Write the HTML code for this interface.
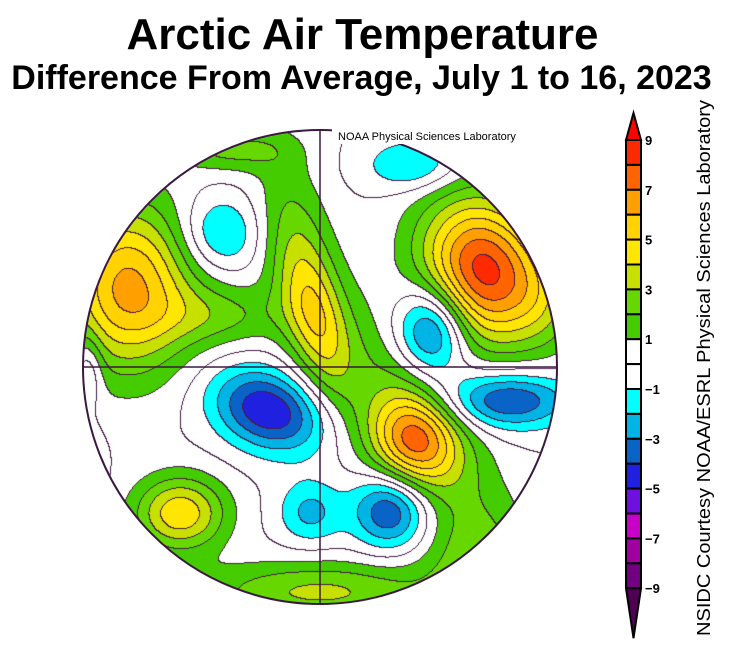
<!DOCTYPE html>
<html><head><meta charset="utf-8">
<style>
html,body{margin:0;padding:0;background:#fff;width:739px;height:647px;overflow:hidden;font-family:"Liberation Sans",sans-serif}
#t1{position:absolute;left:0;width:725px;top:12px;text-align:center;font-weight:bold;font-size:44px;line-height:46px}
#t2{position:absolute;left:0;width:723px;top:60px;text-align:center;font-weight:bold;font-size:34px;line-height:36px}
#map{position:absolute;left:0;top:0}
svg{position:absolute;left:0;top:0}
</style></head><body>
<div id="t1">Arctic Air Temperature</div>
<div id="t2">Difference From Average, July 1 to 16, 2023</div>
<canvas id="map" width="739" height="647"></canvas>
<svg id="ov" width="739" height="647"></svg>
<script>
// anomaly centres (map pixel coords), amplitude (°C), spreads, rotation
const blobX   = [128,483,318,413,268,507,180,390,310,220,413,432,320,300,420,220,230,470,88, 545,88];
const blobY   = [287,270,325,440,410,400,513,510,512,233,165,330,592,260,430,315,150,565,370,300,470];
const blobAmp = [6.3,8.4,2.8,5.5,-5.0,-4.2,4.8,-4.2,-2.3,-2.4,-2.3,-4.5,3.2,2.3,2.3,2.0,2.2,2.0,-2.0,1.5,-2.0];
const blobSx  = [45,42,20,30,40,45,32,26,22,28,32,25,85,25,35,45,40,35,10,25,10];
const blobSy  = [58,52,55,33,27,20,26,26,22,26,18,32,22,80,110,22,15,35,25,35,25];
const blobAng = [0,-20,-15,-30,20,0,0,0,0,0,0,0,0,-10,-35,0,0,0,0,0,0];
const levelColors = ["#700080","#a000a0","#c800c8","#7010e0","#2020e0","#0a64c8","#00b4e6","#00ffff","#ffffff","#ffffff","#44cc00","#66d800","#c8e000","#ffe600","#ffd200","#ffa000","#ff6400","#ff2a00"];
const tickLabels = ["9","7","5","3","1","\u22121","\u22123","\u22125","\u22127","\u22129"];

const CX=320, CY=367, R=237;
function field(x,y){
  let s=0;
  for(let i=0;i<blobX.length;i++){
    const dx=x-blobX[i], dy=y-blobY[i], a=blobAng[i]*Math.PI/180;
    const u=dx*Math.cos(a)+dy*Math.sin(a), v=-dx*Math.sin(a)+dy*Math.cos(a);
    s+=blobAmp[i]*Math.exp(-0.5*((u/blobSx[i])**2+(v/blobSy[i])**2));
  }
  return s;
}
function lev(v){return Math.floor(v);}
function colorFor(v){let k=Math.floor(v)+9;k=Math.max(0,Math.min(17,k));return levelColors[k];}
const cv=document.getElementById('map'),ctx=cv.getContext('2d');
const W=739,H=647,img=ctx.createImageData(W,H);
const L=new Int16Array(W*H),V=new Float32Array(W*H);
function hex(c){return [parseInt(c.slice(1,3),16),parseInt(c.slice(3,5),16),parseInt(c.slice(5,7),16)];}
for(let y=CY-R-1;y<=CY+R+1;y++)for(let x=CX-R-1;x<=CX+R+1;x++){
  const f=field(x,y);V[y*W+x]=f;L[y*W+x]=lev(f);
}
for(let y=CY-R;y<=CY+R;y++)for(let x=CX-R;x<=CX+R;x++){
  const d=Math.hypot(x-CX,y-CY);if(d>R)continue;
  const i=y*W+x;let c=hex(colorFor(V[i]));
  if(L[i]!==L[i+1]||L[i]!==L[i+W])c=[70,30,70];
  img.data[i*4]=c[0];img.data[i*4+1]=c[1];img.data[i*4+2]=c[2];img.data[i*4+3]=255;
}
ctx.putImageData(img,0,0);

const NS='http://www.w3.org/2000/svg',ov=document.getElementById('ov');
function mk(tag,attrs,parent){const e=document.createElementNS(NS,tag);for(const k in attrs)e.setAttribute(k,attrs[k]);(parent||ov).appendChild(e);return e;}
let e;
e=mk('circle',{cx:CX,cy:CY,r:R,fill:'none',stroke:'#3a1840','stroke-width':2});


e=mk('line',{x1:CX,y1:CY-R,x2:CX,y2:CY+R,stroke:'#3a1840','stroke-width':1.5});


e=mk('line',{x1:CX-R,y1:CY,x2:CX+R,y2:CY,stroke:'#3a1840','stroke-width':1.5});


e=mk('rect',{x:332,y:126,width:230,height:18,fill:'#fff'});


e=mk('text',{x:338,y:140,'font-size':11,'font-family':'Liberation Sans, sans-serif',fill:'#000'});
e.textContent='NOAA Physical Sciences Laboratory';



// colorbar
const bx=626,bw=15,barTop=140,seg=24.9;
for(let k=0;k<18;k++){
  e=mk('rect',{x:bx,y:barTop+k*seg,width:bw,height:seg,fill:levelColors[17-k],stroke:'#000','stroke-width':2});
  
  
}
e=mk('polygon',{points:`${bx},${barTop} ${bx+bw},${barTop} ${bx+bw/2},${barTop-27}`,fill:'#ff0000',stroke:'#000','stroke-width':2});


const barBot=barTop+18*seg;
e=mk('polygon',{points:`${bx},${barBot} ${bx+bw},${barBot} ${bx+bw/2},${barBot+50}`,fill:'#500050',stroke:'#000','stroke-width':2});


for(let k=0;k<tickLabels.length;k++){
  e=mk('text',{x:645,y:barTop+k*2*seg+5,'font-size':13,'font-weight':'bold','font-family':'Liberation Sans, sans-serif'});
  e.textContent=tickLabels[k];
  
  
}
e=mk('text',{x:0,y:0,'font-size':18,'font-family':'Liberation Sans, sans-serif',transform:'translate(710,636) rotate(-90)',textLength:536,lengthAdjust:'spacingAndGlyphs'});
e.textContent='NSIDC Courtesy NOAA/ESRL Physical Sciences Laboratory';


</script>
</body></html>
